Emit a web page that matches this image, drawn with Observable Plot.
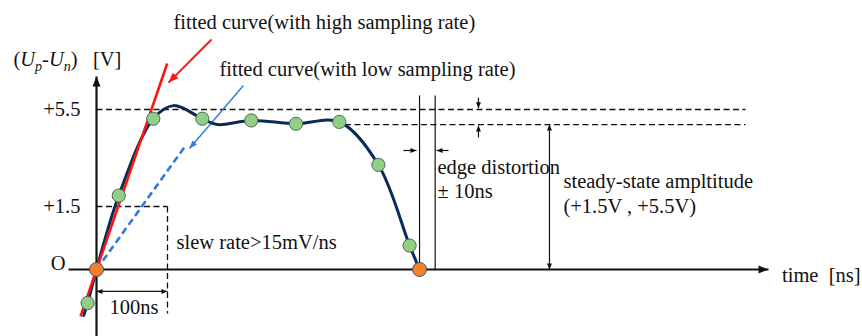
<!DOCTYPE html>
<html>
<head>
<meta charset="utf-8">
<script src="https://cdn.jsdelivr.net/npm/d3@7"></script>
<script src="https://cdn.jsdelivr.net/npm/@observablehq/plot@0.6"></script>
<style>
  html, body { margin: 0; padding: 0; background: #fff; }
  #chart svg { display: block; }
</style>
</head>
<body>
<div id="chart"></div>
<script>
// ---------------- data (time in ns, voltage in V) ----------------
const curveTime = [-18, -12.5, 0, 31.4, 80, 108.5, 149, 170, 218, 281, 342, 397, 441, 455];
const curveVolt = [-1.10, -0.80, 0, 1.95, 5.12, 5.66, 5.12, 4.88, 5.05, 4.91, 4.99, 3.22, 0.57, 0];

const sampleTime = [-12.5, 31.4, 80, 149, 218, 281, 342, 397, 441];
const sampleVolt = [-0.80, 1.95, 5.12, 5.12, 5.05, 4.91, 4.99, 3.22, 0.57];

const edgeTime = [0, 455];
const edgeVolt = [0, 0];

const highRateFitTime = [-22.5, 99.6];
const highRateFitVolt = [-1.12, 7.40];
const lowRateFitTime = [0, 124.5];
const lowRateFitVolt = [0, 3.97];

const levelVolt = [5.5, 4.88];
const levelStart = [0, 350];
const levelEnd = [914, 914];

const slewBoxTime = [0, 100];
const slewBoxVolt = [1.5, -1.05];

const edgeLineTime = [455, 477];
const edgeLineVolt = [0, 6.08];

const yTickVolt = [1.5, 5.5];
const yTickLabels = ["+1.5", "+5.5"];
const originLabel = "O";

const yLabelParts = [["(", ""], ["U", "italic"], ["p", "sub"], ["-", ""], ["U", "italic"], ["n", "sub"], [")\u00a0\u00a0\u00a0[V]", ""]];
const yLabelTime = [-117];
const yLabelVolt = [7.31];

const noteText = [
  "fitted curve(with high sampling rate)",
  "fitted curve(with low sampling rate)",
  "slew rate>15mV/ns",
  "100ns",
  "edge distortion",
  "\u00b1 10ns",
  "steady-state ampltitude",
  "(+1.5V , +5.5V)",
  "time\u00a0\u00a0[ns]"
];
const noteTime = [108.5, 173.2, 112.7, 18.3, 480.3, 480.3, 657.7, 657.7, 965.5];
const noteVolt = [8.84, 6.90, 0.50, -1.07, 2.86, 1.87, 2.28, 1.357, -0.31];

const arrowNames = ["yAxis", "xAxis", "span100", "amplitude", "levelDown", "levelUp", "edgeRight", "edgeLeft", "highRate", "lowRate"];
const arrowT1 = [0, -39.4, 0, 638, 538, 538, 432.4, 495.8, 162, 207];
const arrowV1 = [-1.6, 0, -0.524, 0, 5.99, 4.35, 3.81, 3.81, 8.39, 6.49];
const arrowT2 = [0, 946.5, 100, 638, 538, 538, 450.7, 478.9, 101.4, 131];
const arrowV2 = [6.86, 0, -0.524, 4.88, 5.55, 4.84, 3.81, 3.81, 6.61, 3.89];
const arrowBoth = [false, false, true, true, false, false, false, false, false, false];

// ---------------- styles ----------------
const W = 862, H = 336;
const SERIF = "'Liberation Serif', 'Times New Roman', serif";
const NAVY = "#0c2a58", RED = "#ff1414", BLUE = "#2d7bd6", INK = "#111";
const arrowStyle = {
  yAxis:     {color: INK, width: 2.2, len: 10, wid: 8},
  xAxis:     {color: INK, width: 2.2, len: 10, wid: 8},
  span100:   {color: INK, width: 1.2, len: 6, wid: 5},
  amplitude: {color: INK, width: 1.2, len: 6, wid: 5},
  levelDown: {color: INK, width: 1.2, len: 6, wid: 5},
  levelUp:   {color: INK, width: 1.2, len: 6, wid: 5},
  edgeRight: {color: INK, width: 1.2, len: 6, wid: 5},
  edgeLeft:  {color: INK, width: 1.2, len: 6, wid: 5},
  highRate:  {color: RED, width: 2, len: 10, wid: 8},
  lowRate:   {color: BLUE, width: 1.4, len: 8, wid: 6}
};

// schematic (not-to-scale) voltage axis: piecewise mapping volts -> diagram units
const voltToDiagram = d3.scaleLinear().domain([-1.6, 0, 1.5, 5.5, 10]).range([-67, 0, 63, 160, 269]);
const xDomain = [-135.2, 1078.9];
const yDomain = [-67, 269];

const Xpx = d3.scaleLinear(xDomain, [0, W]);
const Ylin = d3.scaleLinear(yDomain, [H, 0]);
const Ypx = v => Ylin(voltToDiagram(v));

function headSymbol(from, to, len, wid) {
  const dx = Xpx(to[0]) - Xpx(from[0]);
  const dy = Ypx(to[1]) - Ypx(from[1]);
  const n = Math.hypot(dx, dy) || 1;
  const ux = dx / n, uy = dy / n, px = -uy, py = ux;
  return {draw(ctx) {
    ctx.moveTo(0, 0);
    ctx.lineTo(-ux * len + px * wid / 2, -uy * len + py * wid / 2);
    ctx.lineTo(-ux * len - px * wid / 2, -uy * len - py * wid / 2);
    ctx.closePath();
  }};
}

// ---------------- build tables ----------------
const curve = curveTime.map((t, i) => ({t, v: curveVolt[i]}));
const samples = sampleTime.map((t, i) => ({t, v: sampleVolt[i]}));
const edges = edgeTime.map((t, i) => ({t, v: edgeVolt[i]}));
const highFit = [{t1: highRateFitTime[0], v1: highRateFitVolt[0], t2: highRateFitTime[1], v2: highRateFitVolt[1]}];
const lowFit = [{t1: lowRateFitTime[0], v1: lowRateFitVolt[0], t2: lowRateFitTime[1], v2: lowRateFitVolt[1]}];
const levels = levelVolt.map((v, i) => ({t1: levelStart[i], t2: levelEnd[i], v}));
const slewBox = [
  {t1: slewBoxTime[0], v1: slewBoxVolt[0], t2: slewBoxTime[1], v2: slewBoxVolt[0]},
  {t1: slewBoxTime[1], v1: slewBoxVolt[0], t2: slewBoxTime[1], v2: slewBoxVolt[1]}
];
const edgeLines = edgeLineTime.map(t => ({t, v1: edgeLineVolt[0], v2: edgeLineVolt[1]}));
const ticks = yTickVolt.map((v, i) => ({t: 0, v, label: yTickLabels[i]}));
const notes = noteText.map((text, i) => ({text, t: noteTime[i], v: noteVolt[i]}));
const yLabelString = yLabelParts.map(p => p[0]).join("");
const yLabel = [{t: yLabelTime[0], v: yLabelVolt[0], text: yLabelString}];
const origin = [{t: 0, v: 0, text: originLabel}];
const arrows = arrowNames.map((name, i) => ({name, t1: arrowT1[i], v1: arrowV1[i], t2: arrowT2[i], v2: arrowV2[i], both: arrowBoth[i]}));

const arrowMarks = arrows.flatMap(a => {
  const s = arrowStyle[a.name];
  const m = [
    Plot.link([a], {x1: "t1", y1: "v1", x2: "t2", y2: "v2", stroke: s.color, strokeWidth: s.width}),
    Plot.dot([a], {x: "t2", y: "v2", symbol: headSymbol([a.t1, a.v1], [a.t2, a.v2], s.len, s.wid), fill: s.color, stroke: "none"})
  ];
  if (a.both) m.push(Plot.dot([a], {x: "t1", y: "v1", symbol: headSymbol([a.t2, a.v2], [a.t1, a.v1], s.len, s.wid), fill: s.color, stroke: "none"}));
  return m;
});

const chart = Plot.plot({
  width: W,
  height: H,
  marginTop: 0, marginRight: 0, marginBottom: 0, marginLeft: 0,
  style: {fontFamily: SERIF, fontSize: "20.5px", background: "#fff", color: INK},
  x: {domain: xDomain, range: [0, W], axis: null},
  y: {transform: voltToDiagram, domain: yDomain, range: [H, 0], axis: null},
  marks: [
    Plot.link(levels, {x1: "t1", y1: "v", x2: "t2", y2: "v", stroke: INK, strokeWidth: 1.3, strokeDasharray: "6,3.5"}),
    Plot.link(slewBox, {x1: "t1", y1: "v1", x2: "t2", y2: "v2", stroke: INK, strokeWidth: 1.3, strokeDasharray: "6,3.5"}),
    Plot.link(edgeLines, {x1: "t", y1: "v1", x2: "t", y2: "v2", stroke: INK, strokeWidth: 1.2}),
    ...arrowMarks,
    Plot.line(curve, {x: "t", y: "v", curve: "catmull-rom", stroke: NAVY, strokeWidth: 3}),
    Plot.link(highFit, {x1: "t1", y1: "v1", x2: "t2", y2: "v2", stroke: RED, strokeWidth: 2.6}),
    Plot.link(lowFit, {x1: "t1", y1: "v1", x2: "t2", y2: "v2", stroke: BLUE, strokeWidth: 2.6, strokeDasharray: "7,4"}),
    Plot.dot(samples, {x: "t", y: "v", r: 6.6, fill: "#92cf86", stroke: "#4b6a58", strokeWidth: 1}),
    Plot.dot(edges, {x: "t", y: "v", r: 7, fill: "#f5822a", stroke: "#3a5578", strokeWidth: 1}),
    Plot.text(ticks, {x: "t", y: "v", text: "label", dx: -16, textAnchor: "end", lineAnchor: "middle", fill: INK}),
    Plot.text(origin, {x: "t", y: "v", text: "text", dx: -31, textAnchor: "end", lineAnchor: "bottom", fill: INK}),
    Plot.text(notes, {x: "t", y: "v", text: "text", textAnchor: "start", lineAnchor: "bottom", fill: INK}),
    Plot.text(yLabel, {x: "t", y: "v", text: "text", textAnchor: "start", lineAnchor: "bottom", fill: INK})
  ]
});

document.getElementById("chart").appendChild(chart);

// rich formatting of the y-axis label: italic U with italic subscripts p / n
d3.select(chart).selectAll("text").filter(function () { return this.textContent === yLabelString; }).each(function () {
  const el = d3.select(this);
  el.text(null);
  let shifted = false;
  yLabelParts.forEach(([s, kind]) => {
    const ts = el.append("tspan").text(s);
    if (kind === "italic") ts.attr("font-style", "italic");
    if (kind === "sub") { ts.attr("font-style", "italic").attr("font-size", "14px").attr("dy", 5); shifted = true; }
    else if (shifted) { ts.attr("dy", -5); shifted = false; }
  });
});
</script>
</body>
</html>
